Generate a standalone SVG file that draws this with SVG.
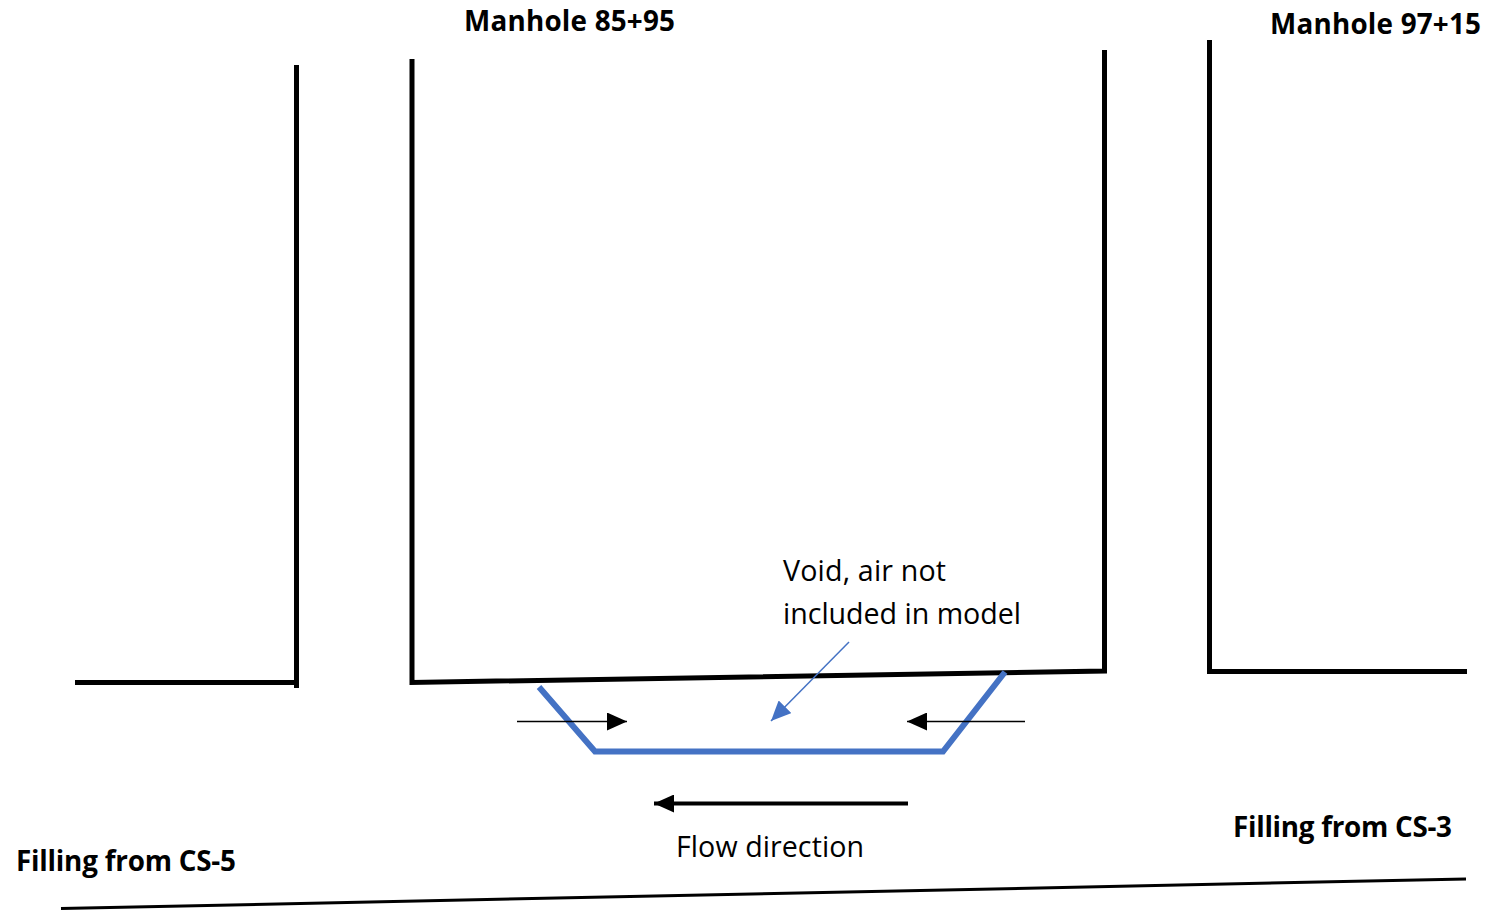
<svg xmlns="http://www.w3.org/2000/svg" width="1490" height="910" viewBox="0 0 1490 910">
<style>
.w{fill:none;stroke:#000;stroke-width:5}
.b{font-family:"Open Sans","Liberation Sans",sans-serif;font-weight:700;font-size:27.800px;fill:#000}
.r{font-family:"Open Sans","Liberation Sans",sans-serif;font-size:28.600px;fill:#000}
</style>
<defs>
<marker id="k" markerUnits="userSpaceOnUse" markerWidth="20" markerHeight="18" refX="20" refY="9" orient="auto"><path d="M0 0L20 9L0 18Z" fill="#000"/></marker>
<marker id="bl" markerUnits="userSpaceOnUse" markerWidth="20" markerHeight="18" refX="20" refY="9" orient="auto"><path d="M0 0L20 9L0 18Z" fill="#4472c4"/></marker>
</defs>
<rect width="1490" height="910" fill="#fff"/>
<g id="walls">
<path class="w" d="M296.500 65V688M75 682.500H298"/>
<path class="w" d="M412 59V682.500L1104.500 671V50"/>
<path class="w" d="M1209.500 40V671.500H1467"/>
<path d="M61 908.500L1466 879" fill="none" stroke="#000" stroke-width="3"/>
</g>
<g id="void"><path d="M539 687L595 751.500H943L1005 672" fill="none" stroke="#4472c4" stroke-width="6"/></g>
<g id="connectors">
<path d="M517 721.500H627" stroke="#000" stroke-width="1.500" marker-end="url(#k)"/>
<path d="M1025 721.500H907" stroke="#000" stroke-width="1.500" marker-end="url(#k)"/>
<path d="M908 803.500H654" stroke="#000" stroke-width="4" marker-end="url(#k)"/>
<path d="M849 642L771 721" stroke="#4472c4" stroke-width="1.500" marker-end="url(#bl)"/>
</g>
<g id="labels">
<text class="b" x="464" y="30.500" textLength="211">Manhole 85+95</text>
<text class="b" x="1270" y="33.500" textLength="211">Manhole 97+15</text>
<text class="b" x="16" y="870.500" textLength="220">Filling from CS-5</text>
<text class="b" x="1233" y="836.500" textLength="219">Filling from CS-3</text>
<text class="r" x="783" y="581" textLength="163">Void, air not</text>
<text class="r" x="783" y="624" textLength="238">included in model</text>
<text class="r" x="676" y="857" textLength="188">Flow direction</text>
</g>
</svg>
